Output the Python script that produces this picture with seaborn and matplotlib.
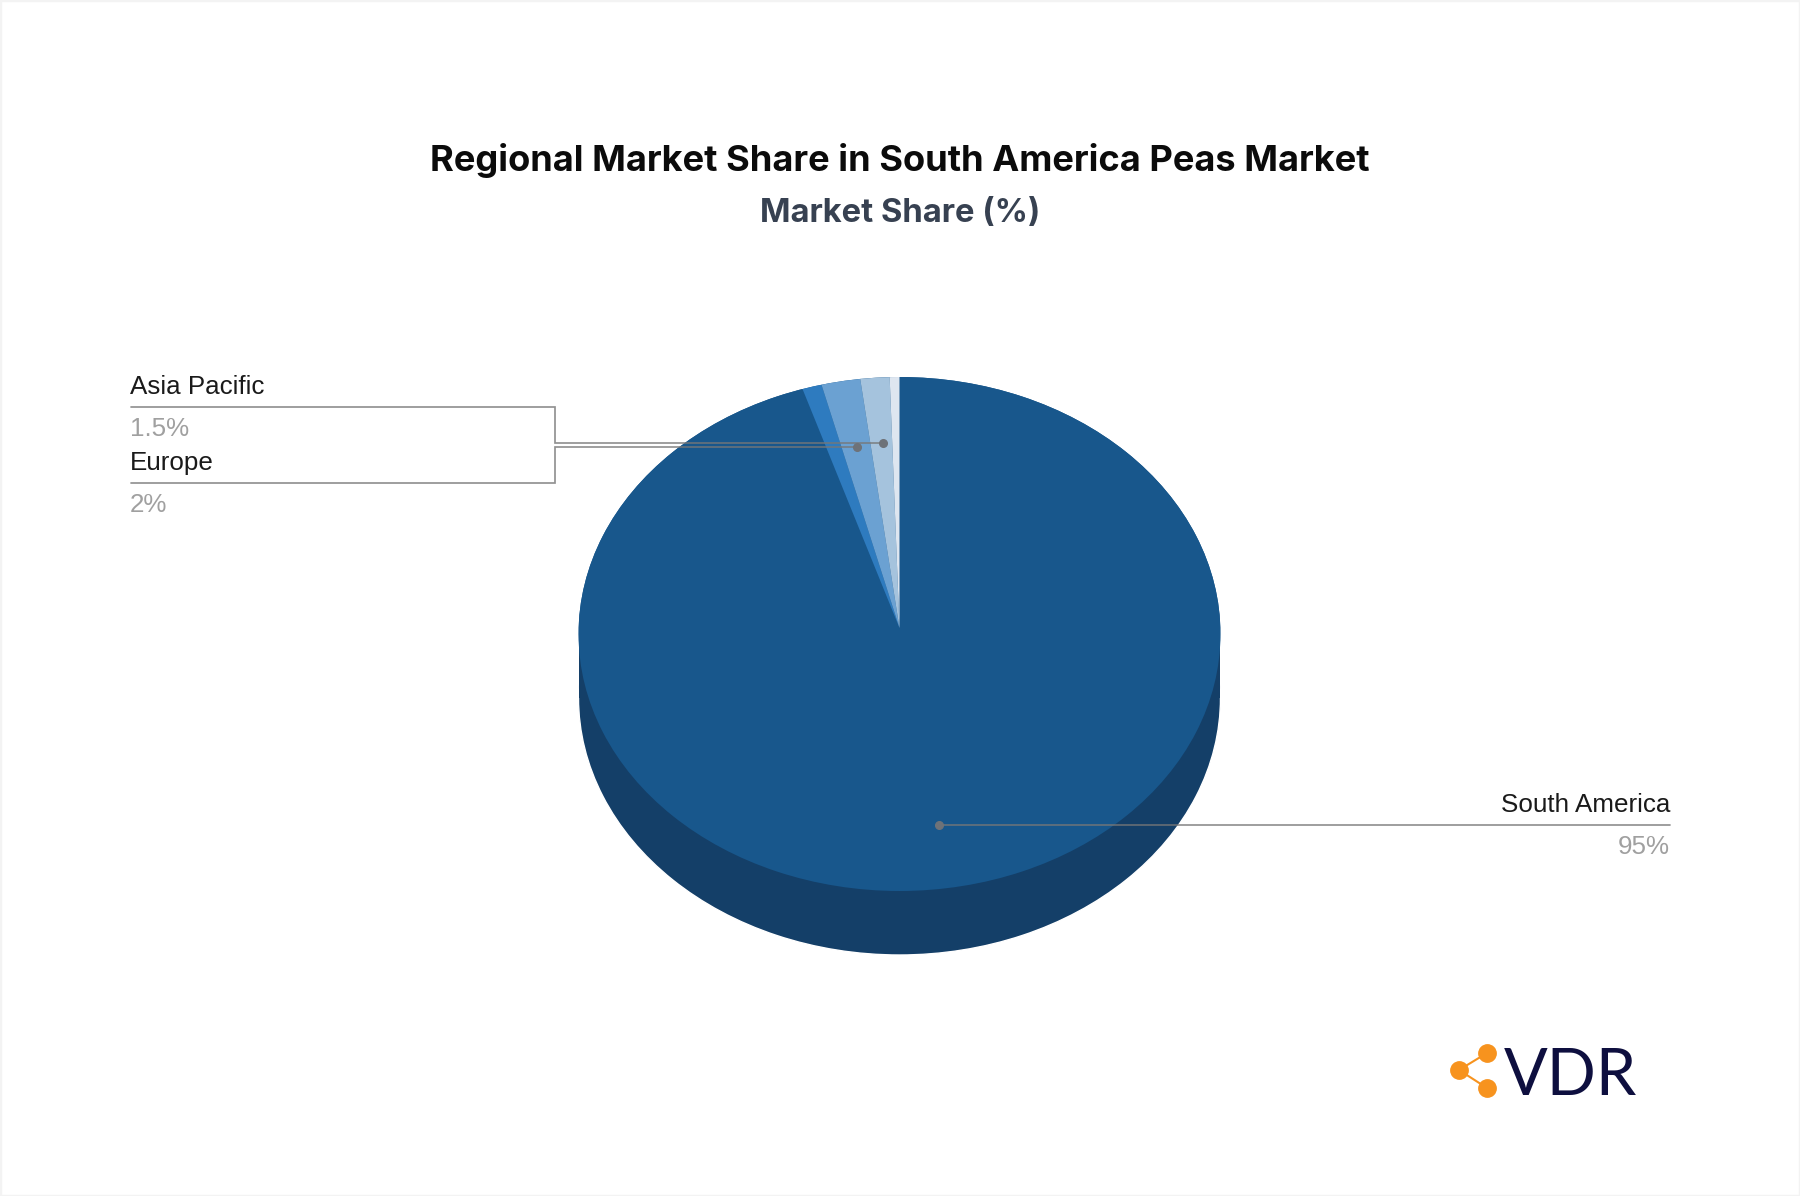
import matplotlib
matplotlib.use("Agg")
import matplotlib.pyplot as plt
from matplotlib.patches import Rectangle
import seaborn as sns

regions = ["South America", "North America", "Europe", "Asia Pacific", "Middle East & Africa"]
shares = [95, 1, 2, 1.5, 0.5]
slice_colors = ["#18578C", "#2E7BBF", "#6BA1D2", "#A5C3DD", "#DEE6F0"]
side_color = "#143F68"

# label text: name, value, text x, name y, value y, alignment
callouts = [
    ("Asia Pacific", "1.5%", 130, 387, 429, "left"),
    ("Europe", "2%", 130, 463, 505, "left"),
    ("South America", "95%", 1670, 805, 847, "right"),
]
# leader lines in pixels
leaders = [
    ([131, 555, 555, 883], [407, 407, 443, 443]),
    ([131, 555, 555, 857], [483, 483, 447, 447]),
    ([1670, 939], [825, 825]),
]

W, H = 1800, 1196
CX, CY, RX, RY, DEPTH = 899.5, 634, 321, 257, 64

sns.set_theme(style="white")
plt.rcParams["font.family"] = ["Liberation Sans", "DejaVu Sans"]
palette = sns.color_palette(slice_colors)

fig = plt.figure(figsize=(W / 100, H / 100), dpi=100, facecolor="white")

# pie axes, x and y scaled differently so the circle turns into a tilted ellipse
lim = 1.25
ax = fig.add_axes([(CX - lim * RX) / W, 1 - (CY + lim * RY) / H, 2 * lim * RX / W, 2 * lim * RY / H])
depth = DEPTH / RY
ax.pie([100], colors=[side_color], center=(0, -depth), radius=1, startangle=90)
ax.bar(0, depth, width=1.998, bottom=-depth, color=side_color, linewidth=0)
disc = ax.pie([100], colors=[slice_colors[0]], radius=1, wedgeprops={"linewidth": 0})[0][0]
# the slices meet a little above the middle of the top face
wedges = ax.pie(shares, colors=palette, startangle=90, counterclock=False, radius=1,
                center=(0, 6 / RY), wedgeprops={"linewidth": 0})[0]
for wedge in wedges:
    wedge.set_clip_on(True)
    wedge.set_clip_path(disc)
ax.set_aspect("auto")
ax.set_xlim(-lim, lim)
ax.set_ylim(-lim, lim)
ax.axis("off")

# overlay in pixel coordinates for titles, leaders and the logo
ov = fig.add_axes([0, 0, 1, 1], facecolor="none")
ov.set_xlim(0, W)
ov.set_ylim(H, 0)
ov.axis("off")

# faint page border
ov.add_patch(Rectangle((0, 0), W, H, fill=False, ec="#F3F3F3", lw=2.5))

ov.text(900, 160, "Regional Market Share in South America Peas Market", ha="center", va="center",
        fontsize=26.1, fontweight="bold", family="Inter", color="#0B0B0B")
ov.text(900, 213.5, "Market Share (%)", ha="center", va="center",
        fontsize=23.6, fontweight="bold", family="Inter", color="#374151")

for xs, ys in leaders:
    ov.plot(xs, ys, color="#777777", lw=1.25, alpha=0.8, solid_joinstyle="miter")
    ov.plot(xs[-1], ys[-1], "o", color="#6E7278", ms=5.5)

for name, value, x, y1, y2, align in callouts:
    ov.text(x, y1, name, ha=align, va="center", fontsize=18.75, color="#1A1A1A")
    ov.text(x, y2, value, ha=align, va="center", fontsize=18.75, color="#A0A0A0")

# VDR logo
ov.plot([1487, 1459, 1487], [1053, 1070, 1088], color="#F7931E", lw=1.5)
ov.plot([1487, 1459, 1487], [1053, 1070, 1088], "o", color="#F7931E", ms=12.5)
ov.text(1504, 1095, "VDR", ha="left", va="baseline", fontsize=46.5, family="Lato", color="#0E0F3F")

fig.savefig("out.png", dpi=100, facecolor="white")
